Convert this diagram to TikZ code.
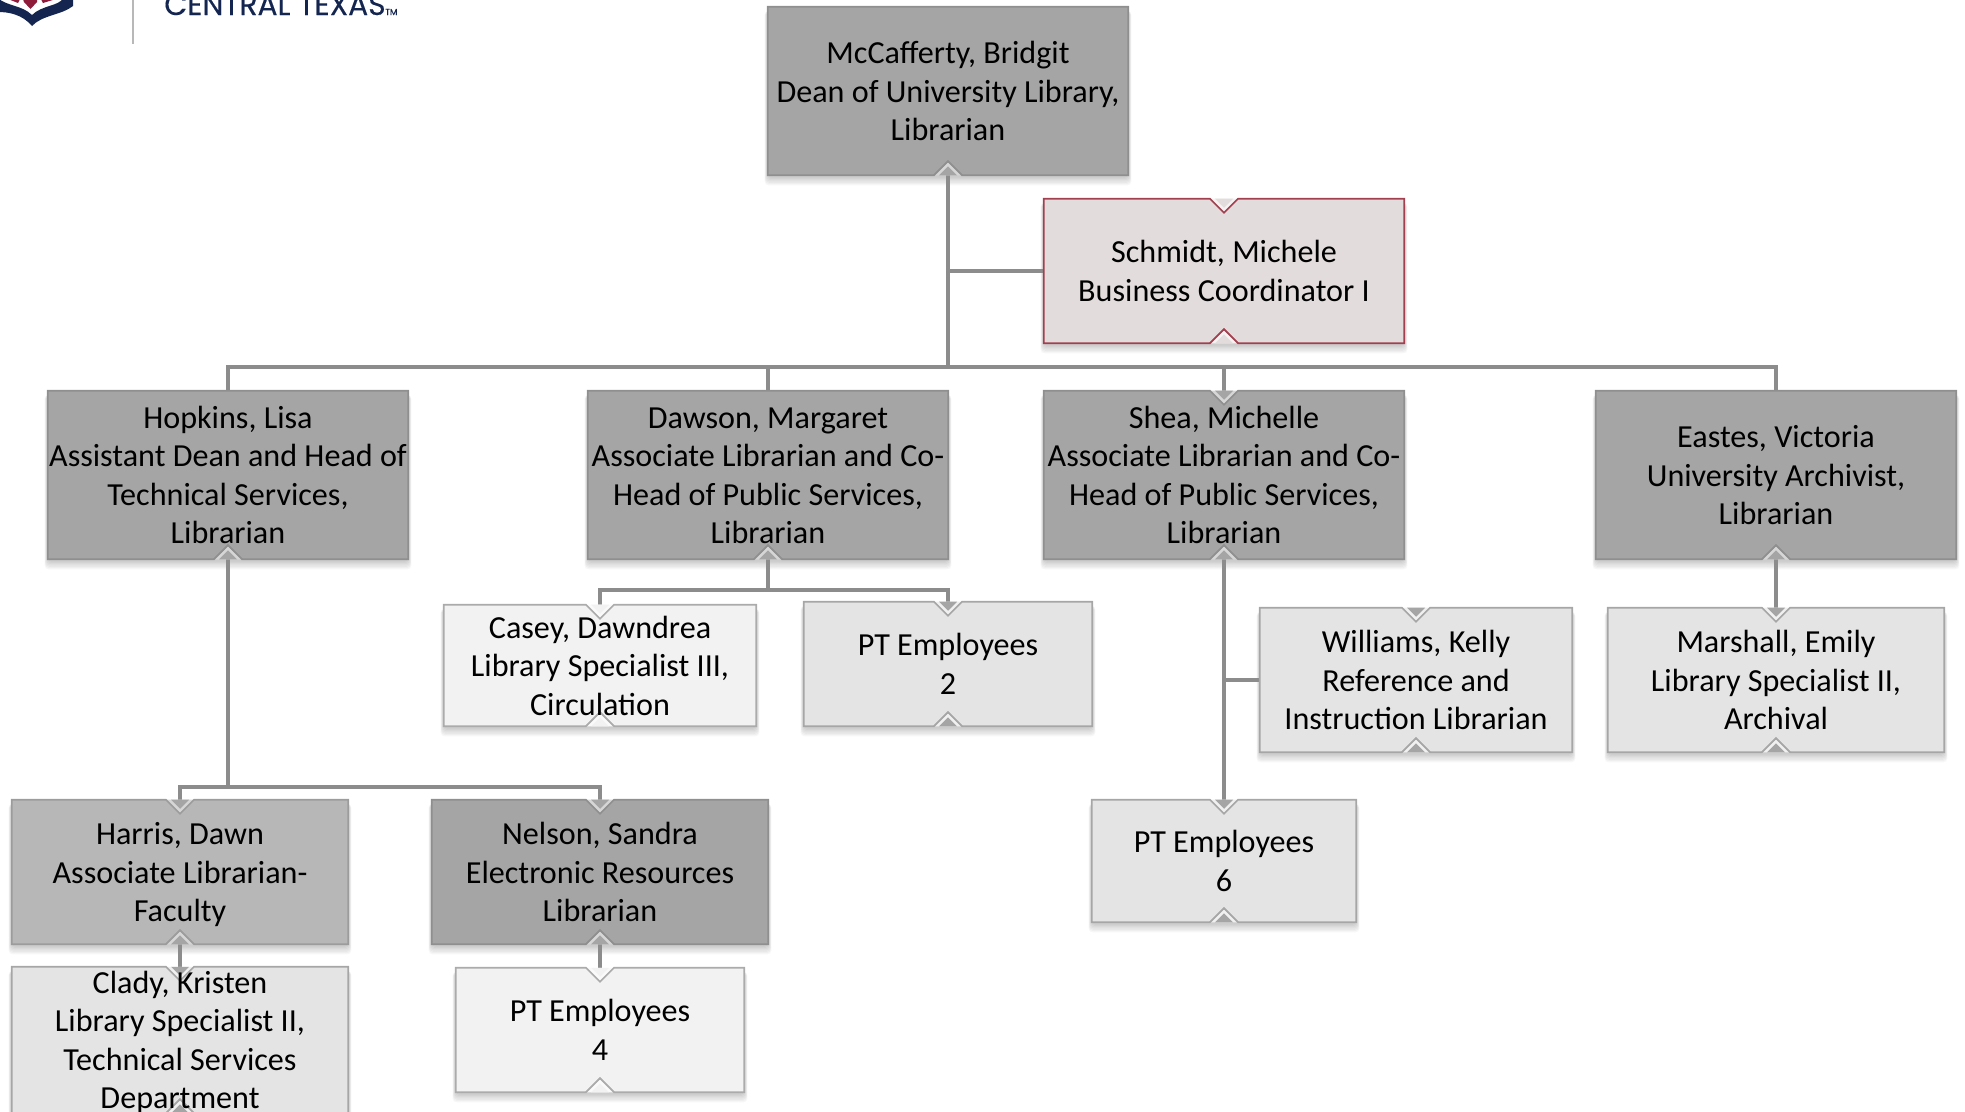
\documentclass[tikz,border=0pt]{standalone}
\usepackage{fontspec}
\setmainfont{Carlito}
\newfontfamily\logofont[FakeBold=0.35]{Poppins}
\usetikzlibrary{calc}
\pgfdeclarelayer{shade}
\pgfdeclarelayer{conn}
\pgfdeclarelayer{boxbody}
\pgfsetlayers{shade,conn,boxbody,main}
\definecolor{lnk}{HTML}{8C8C8C}
\definecolor{navy}{HTML}{14264F}
\definecolor{uhred}{HTML}{8E1B3A}
\tikzset{
  orgtext/.style={shape=rectangle,inner sep=0pt,text=black,
    font=\fontsize{24.1}{28.8}\selectfont},
  bx/.style 2 args={minimum width=#1*0.75pt,minimum height=#2*0.75pt},
  conn/.style={draw=lnk,line width=3.2pt,line cap=butt,line join=miter},
  softshade/.style={fill=black,opacity=.03,rounded corners=3pt}
}
% centred block of lines, placed the same way in every box
\newcommand\ot[1]{\raisebox{-8.8pt}[0pt][0pt]{\begin{tabular}[c]{@{}c@{}}#1\end{tabular}}}
% looks: fill, stroke, band, top interior, bottom interior
\newcommand\lookset[5]{\def\bF{#1}\def\bS{#2}\def\bB{#3}\def\bT{#4}\def\bI{#5}}
\definecolor{dA}{HTML}{A5A5A5}\definecolor{dS}{HTML}{8F8F8F}\definecolor{dB}{HTML}{D6D6D6}
\definecolor{hA}{HTML}{B7B7B7}\definecolor{hS}{HTML}{9C9C9C}
\definecolor{mA}{HTML}{E4E4E4}\definecolor{mS}{HTML}{A6A6A6}\definecolor{mB}{HTML}{F0F0F0}
\definecolor{lA}{HTML}{F2F2F2}\definecolor{lS}{HTML}{ABABAB}\definecolor{lB}{HTML}{FAFAFA}
\definecolor{rA}{HTML}{E3DCDC}\definecolor{rS}{HTML}{A2404F}\definecolor{rB}{HTML}{F4F2F2}
\newcommand\lookdark{\lookset{dA}{dS}{dB}{dA}{dA}}
\newcommand\lookharris{\lookset{hA}{hS}{dB}{dA}{dA}}
\newcommand\lookmid{\lookset{mA}{mS}{mB}{dA}{dA}}
\newcommand\looklight{\lookset{lA}{lS}{lB}{lA}{lA}}
\newcommand\lookred{\lookset{rA}{rS}{rB}{rA}{rA}}
% body of a box with both notches (#2=1) or only the bottom notch (#2=0)
\newcommand\orgbody[2]{%
  \begin{pgfonlayer}{shade}
    \foreach \d in {1,...,7}
      \fill[softshade] ($(#1.north west)+(-\d*0.45,4)$) rectangle ($(#1.south east)+(\d*0.45,\d*1.3+1)$);
  \end{pgfonlayer}
  \begin{pgfonlayer}{boxbody}
    \ifnum#2=1
      \fill[\bB] ($(#1.north)+(-14,0)$) -- ($(#1.north)+(0,14)$) -- ($(#1.north)+(14,0)$) -- cycle;
      \fill[\bT] ($(#1.north)+(-9,0)$) -- ($(#1.north)+(0,9)$) -- ($(#1.north)+(9,0)$) -- cycle;
      \draw[draw=\bS,fill=\bF,line width=1.2pt]
        (#1.north west) -- ($(#1.north)+(-14,0)$) -- ($(#1.north)+(0,14)$) -- ($(#1.north)+(14,0)$)
        -- (#1.north east) -- (#1.south east) -- ($(#1.south)+(14,0)$) -- ($(#1.south)+(0,-14)$)
        -- ($(#1.south)+(-14,0)$) -- (#1.south west) -- cycle;
    \else
      \draw[draw=\bS,fill=\bF,line width=1.2pt]
        (#1.north west)
        -- (#1.north east) -- (#1.south east) -- ($(#1.south)+(14,0)$) -- ($(#1.south)+(0,-14)$)
        -- ($(#1.south)+(-14,0)$) -- (#1.south west) -- cycle;
    \fi
    \fill[\bB] ($(#1.south)+(-14,0)$) -- ($(#1.south)+(0,-13)$) -- ($(#1.south)+(14,0)$) -- cycle;
    \fill[\bI] ($(#1.south)+(-9,0)$) -- ($(#1.south)+(0,-9)$) -- ($(#1.south)+(9,0)$) -- cycle;
    \draw[draw=\bS,line width=1.2pt] ($(#1.south)+(-14,0)$) -- ($(#1.south)+(0,-14)$) -- ($(#1.south)+(14,0)$);
  \end{pgfonlayer}%
}
\begin{document}
\begin{tikzpicture}[x=0.75pt,y=-0.75pt]
\useasboundingbox (0,0) rectangle (1965,1111);
\clip (0,0) rectangle (1965,1111);

% nodes
\node[orgtext,bx={360}{168}] (mcc) at (948,91) {\ot{McCafferty, Bridgit\\Dean of University Library,\\Librarian}};
\node[orgtext,bx={360}{144}] (sch) at (1224,271) {\ot{Schmidt, Michele\\Business Coordinator I}};
\node[orgtext,bx={360}{168}] (hop) at (228,475) {\ot{Hopkins, Lisa\\Assistant Dean and Head of\\Technical Services,\\Librarian}};
\node[orgtext,bx={360}{168}] (daw) at (768,475) {\ot{Dawson, Margaret\\Associate Librarian and Co-\\Head of Public Services,\\Librarian}};
\node[orgtext,bx={360}{168}] (she) at (1224,475) {\ot{Shea, Michelle\\Associate Librarian and Co-\\Head of Public Services,\\Librarian}};
\node[orgtext,bx={360}{168}] (eas) at (1776,475) {\ot{Eastes, Victoria\\University Archivist,\\Librarian}};
\node[orgtext,bx={312}{121}] (cas) at (600,665.5) {\ot{Casey, Dawndrea\\Library Specialist III,\\Circulation}};
\node[orgtext,bx={288}{124}] (pt2) at (948,664) {\ot{PT Employees\\2}};
\node[orgtext,bx={312}{144}] (wil) at (1416,680) {\ot{Williams, Kelly\\Reference and\\Instruction Librarian}};
\node[orgtext,bx={336}{144}] (mar) at (1776,680) {\ot{Marshall, Emily\\Library Specialist II,\\Archival}};
\node[orgtext,bx={336}{144}] (har) at (180,872) {\ot{Harris, Dawn\\Associate Librarian-\\Faculty}};
\node[orgtext,bx={336}{144}] (nel) at (600,872) {\ot{Nelson, Sandra\\Electronic Resources\\Librarian}};
\node[orgtext,bx={336}{146}] (cla) at (180,1040) {\ot{Clady, Kristen\\Library Specialist II,\\Technical Services\\Department}};
\node[orgtext,bx={288}{124}] (pt4) at (600,1030) {\ot{PT Employees\\4}};
\node[orgtext,bx={264}{122}] (pt6) at (1224,861) {\ot{PT Employees\\6}};

% box bodies
\lookdark \orgbody{mcc}{0}
\lookred  \orgbody{sch}{1}
\lookdark \orgbody{hop}{0}
\lookdark \orgbody{daw}{0}
\lookdark \orgbody{she}{1}
\lookdark \orgbody{eas}{0}
\looklight \orgbody{cas}{1}
\lookmid  \orgbody{pt2}{1}
\lookmid  \orgbody{wil}{1}
\lookmid  \orgbody{mar}{1}
\lookharris \orgbody{har}{1}
\lookdark \orgbody{nel}{1}
\lookmid  \orgbody{cla}{1}
\looklight \orgbody{pt4}{1}
\lookmid  \orgbody{pt6}{1}

% connector junctions
\coordinate (bus) at (948,367);
\coordinate (busd) at (768,590);
\coordinate (bush) at (228,787);

% connectors
\begin{pgfonlayer}{conn}
\draw[conn] (mcc.south) -- (mcc.south |- bus);
\draw[conn] (sch.west) -- (mcc.south |- sch.west);
\draw[conn] (hop.north) -- (hop.north |- bus) -- (eas.north |- bus) -- (eas.north);
\draw[conn] (daw.north) -- (daw.north |- bus);
\draw[conn] (she.north) -- (she.north |- bus);
\draw[conn] (daw.south) -- (daw.south |- busd);
\draw[conn] (cas.north) -- (cas.north |- busd) -- (pt2.north |- busd) -- (pt2.north);
\draw[conn] (she.south) -- (pt6.north);
\draw[conn] (wil.west) -- (she.south |- wil.west);
\draw[conn] (eas.south) -- (mar.north);
\draw[conn] (hop.south) -- (hop.south |- bush);
\draw[conn] (har.north) -- (har.north |- bush) -- (nel.north |- bush) -- (nel.north);
\draw[conn] (har.south) -- (cla.north);
\draw[conn] (nel.south) -- (pt4.north);
\end{pgfonlayer}

% logo
\fill[navy] (-2,12) .. controls (8,12) and (22,14) .. (32,26) .. controls (42,15) and (62,15) .. (73,6) -- (73,-2) -- (63,-2)
  .. controls (60,6) and (42,5) .. (32,15) .. controls (22,5) and (6,6) .. (-2,-2) -- cycle;
\fill[uhred] (23,-1) -- (37,-1) -- (37,2) -- (30.5,9) -- (24,2) -- cycle;
\fill[uhred] (8,-1) -- (20,-1) -- (18,3) -- cycle;
\fill[uhred] (41,-1) -- (56,-1) -- (43,3) -- cycle;
\draw[draw=black!28,line width=1.5pt] (133,-2) -- (133,44);
\node[anchor=base west,inner sep=0pt,text=navy,font=\logofont\fontsize{22.3}{24}\selectfont] (logo) at (164,15) {CENTRAL TEXAS};
\node[anchor=base west,inner sep=0pt,text=navy,font=\logofont\fontsize{6.5}{7}\selectfont] (tm) at (385,15) {TM};
\end{tikzpicture}
\end{document}
